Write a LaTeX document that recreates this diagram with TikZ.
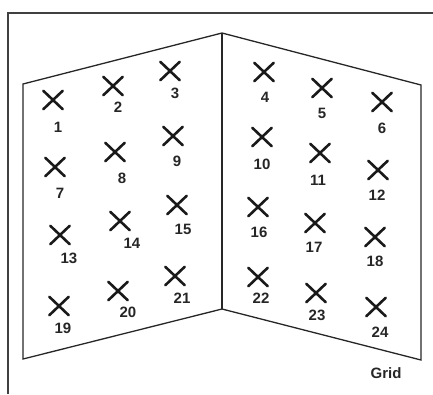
\documentclass[tikz,border=0pt]{standalone}
\usepackage{fontspec}
\setmainfont{Liberation Sans}
\usetikzlibrary{shapes.misc}

\begin{document}
\begin{tikzpicture}[
  x=1pt, y=-1pt,
  font=\fontsize{15}{17}\selectfont\bfseries,
  bordo/.style={draw=black!75, line width=1.3pt},
  pannello/.style={draw=black!85, line width=1.3pt, line join=miter},
  croce/.style={cross out, draw=black!90, line width=2.6pt, line cap=round,
                inner sep=0pt, minimum width=17pt, minimum height=16pt},
  etichetta/.style={inner sep=0pt, text=black!85}
]
\useasboundingbox (0,0) rectangle (433,394);

% ---- cornice esterna (tagliata a destra e in basso)
\draw[bordo] (8,394) -- (8,13) -- (433,13);

% ---- i due pannelli piegati
\draw[pannello] (23,359) -- (23,84) -- (222,33) -- (421,85)
                -- (421,360) -- (222,309) -- cycle;
\draw[pannello] (222,33) -- (222,309);

% ---- crocette e numeri
\foreach \n/\x/\y/\lx/\ly in {
   1/53/100/58/127,   2/113/86/118/107,  3/170/71/175/93,
   4/264/72/265/97,   5/322/88/322/113,  6/382/102/382/128,
   7/55/167/60/193,   8/115/152/122/178, 9/173/136/177/161,
  10/262/137/262/164, 11/320/153/318/180, 12/378/170/377/195,
  13/60/235/69/258,   14/120/221/132/243, 15/177/205/183/229,
  16/258/207/259/232, 17/315/223/314/247, 18/375/237/375/261,
  19/59/306/63/328,   20/118/291/128/312, 21/175/276/182/298,
  22/258/277/261/298, 23/316/293/317/315, 24/376/307/380/332} {
  \node[croce] (c\n) at (\x,\y) {};
  \node[etichetta] (e\n) at (\lx,\ly) {\n};
}

\node[etichetta] (griglia) at (386,373) {Grid};

\end{tikzpicture}
\end{document}
